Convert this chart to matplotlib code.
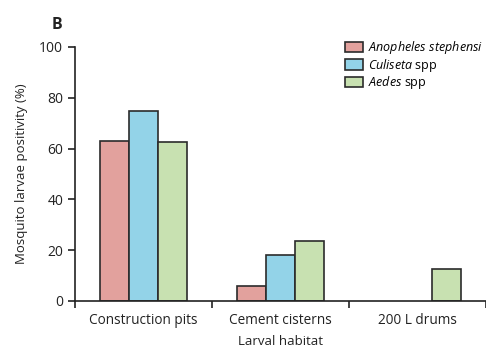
import numpy as np
import matplotlib.pyplot as plt

plt.rcParams['font.family'] = 'Open Sans'
plt.rcParams['mathtext.fontset'] = 'custom'
plt.rcParams['mathtext.it'] = 'Open Sans:italic'
plt.rcParams['mathtext.rm'] = 'Open Sans'

habitats = ['Construction pits', 'Cement cisterns', '200 L drums']
species = [r'$\it{Anopheles\ stephensi}$', r'$\it{Culiseta}$ spp', r'$\it{Aedes}$ spp']
anopheles = [63.0, 6.0, 0.0]
culiseta = [74.7, 18.2, 0.0]
aedes = [62.6, 23.6, 12.6]
colors = ['#e2a19d', '#93d3e8', '#c8e1b1']

fig = plt.figure(figsize=(4.86, 3.49), dpi=100)
ax = fig.add_axes([75 / 486, 48 / 349, 411 / 486, 254 / 349])

x = np.arange(len(habitats))
w = 0.212
for i, (vals, lab, c) in enumerate(zip([anopheles, culiseta, aedes], species, colors)):
    vals = np.array(vals)
    # empty habitats get no bar outline
    edges = ['#2b2b2b' if v > 0 else 'none' for v in vals]
    ax.bar(x + (i - 1) * w, vals, w, color=c, edgecolor=edges, linewidth=1.2, label=lab)

ax.set_xlim(-0.5, 2.5)
ax.set_ylim(0, 100)
ax.set_yticks(range(0, 101, 20))
ax.set_xticks(x)
ax.set_xticklabels(habitats)
ax.set_xticks(np.arange(-0.5, 2.6, 1), minor=True)
ax.tick_params(axis='x', which='major', length=0, pad=9, labelsize=9.8, colors='#222222')
ax.tick_params(axis='x', which='minor', length=5, width=1.2, direction='out', colors='#222222')
ax.tick_params(axis='y', length=5, width=1.2, labelsize=10, colors='#222222')
for s in ['top', 'right']:
    ax.spines[s].set_visible(False)
for s in ['left', 'bottom']:
    ax.spines[s].set_linewidth(1.2)
    ax.spines[s].set_color('#222222')

ax.set_xlabel('Larval habitat', fontsize=9.5, labelpad=5, color='#222222')
ax.set_ylabel('Mosquito larvae positivity (%)', fontsize=9.5, labelpad=8, color='#222222')
fig.text(52 / 486, 1 - 25 / 349, 'B', fontsize=11.5, fontweight='bold', va='center', color='#222222')

leg = ax.legend(loc='upper right', bbox_to_anchor=(1.02, 1.075), frameon=False, fontsize=9,
                handlelength=1.4, handleheight=0.9, handletextpad=0.4, labelspacing=0.05)
for p in leg.get_patches():
    p.set_edgecolor('#2b2b2b')

fig.savefig('out.png', dpi=100)
